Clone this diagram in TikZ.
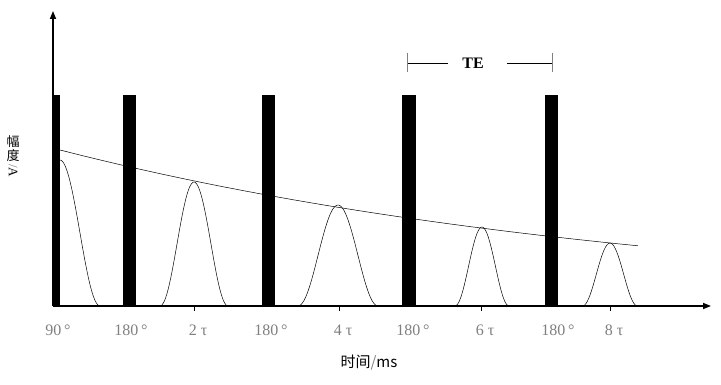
\documentclass[tikz,border=0pt]{standalone}
\usepackage{fontspec}
\usepackage{graphicx}
\setmainfont{Liberation Serif}
\newfontfamily\cjk{Noto Sans CJK SC}
\usetikzlibrary{positioning, arrows.meta}
\tikzset{
	node distance = 1em,
	line width = .6pt,
	>={Triangle[length=8pt,width=6pt]},
	axis/.style={
		->,
		line width=1.6pt
	},
	pulse/.style={
		fill=black,
		inner sep=0pt,
		minimum width=13pt,
		minimum height=211pt,
		anchor=south
	},
	echo/.style={
		line width=.5pt,
		smooth
	},
	tick label/.style={
		text=black!50,
		anchor=base,
		font=\fontsize{16}{18}\selectfont
	},
	tick mark/.style={
		line width=.6pt
	}
}

\begin{document}
\begin{tikzpicture}[x=1pt, y=-1pt]
	\useasboundingbox[fill=white] (0,0) rectangle (721,385);
	\coordinate (o) at (53,306);
	\coordinate (xend) at (711,306);
	\coordinate (yend) at (53,11);

	% envelope and echoes
	\draw[echo] plot[domain=60:638, samples=60] (\x,{306-156*exp(-(\x-60)/607)});
	\draw[echo] plot[domain=60:100, samples=30] (\x,{306-146*(1+cos(180*(\x-60)/40))/2});
	\draw[echo] plot[domain=160:228, samples=40] (\x,{306-124*(1+cos(180*(\x-194)/34))/2});
	\draw[echo] plot[domain=298:378, samples=40] (\x,{306-101*(1+cos(180*(\x-338)/40))/2});
	\draw[echo] plot[domain=455:509, samples=40] (\x,{306-79*(1+cos(180*(\x-482)/27))/2});
	\draw[echo] plot[domain=583:638, samples=40] (\x,{306-63*(1+cos(180*(\x-610)/27.5))/2});

	% rf pulses
	\node[pulse, minimum width=7pt] (p90) at (56.5,306) {};
	\node[pulse] (p180a) at (129.5,306) {};
	\node[pulse] (p180b) at (268,306) {};
	\node[pulse, minimum width=14pt] (p180c) at (409,306) {};
	\node[pulse] (p180d) at (551.5,306) {};

	\draw[axis] (o) -- (xend);
	\draw[axis] (o) -- (yend);

	% ticks
	\foreach \t/\n in {194/2, 339/4, 481/6, 610/8} {
		\coordinate (t\n) at (\t,306);
		\coordinate (tb\n) at (\t,311);
		\draw[tick mark] (t\n) -- (tb\n);
		\node[tick label] (l\n) at (\t+4,335) {\n\ τ};
	}
	\node[tick label] (l90) at (58,335) {90\,°};
	\node[tick label] (l180a) at (131,335) {180\,°};
	\node[tick label] (l180b) at (271,335) {180\,°};
	\node[tick label] (l180c) at (413,335) {180\,°};
	\node[tick label] (l180d) at (558,335) {180\,°};

	% TE
	\node[font=\fontsize{16}{18}\selectfont\bfseries, inner sep=0pt] (te) at (473,63) {TE};
	\coordinate (tel) at (407,63);
	\coordinate (ter) at (552,63);
	\coordinate (tela) at (407,53);
	\coordinate (telb) at (407,72);
	\coordinate (tera) at (552,53);
	\coordinate (terb) at (552,72);
	\coordinate (tegl) at (448,63);
	\coordinate (tegr) at (507,63);
	\draw (tel) -- (tegl);
	\draw (tegr) -- (ter);
	\draw[black!50, line width=.8pt] (tela) -- (telb);
	\draw[black!50, line width=.8pt] (tera) -- (terb);

	% axis titles
	\node[font=\cjk\fontsize{15}{17}\selectfont] (xt) at (369,363) {时间{\color{black!50}/}ms};
	\node[font=\cjk\fontsize{13}{14}\selectfont, align=center, inner sep=0pt] (yt) at (13,149) {幅\\度};
	\node[font=\fontsize{13}{14}\selectfont, below=2pt of yt, inner sep=0pt] (yu) {\rotatebox{-90}{{\color{black!50}/}A}};
\end{tikzpicture}
\end{document}
